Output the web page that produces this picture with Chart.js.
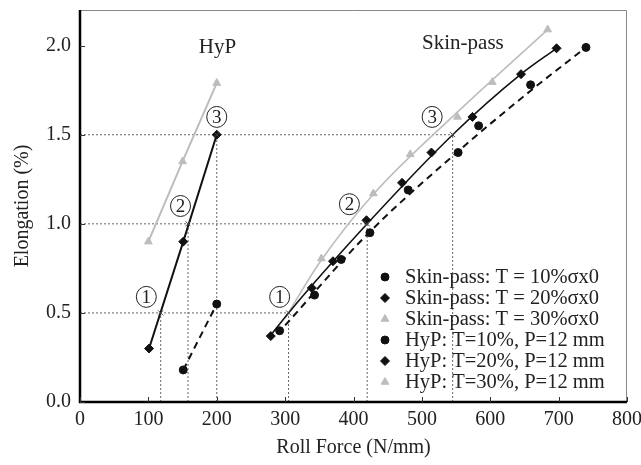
<!DOCTYPE html>
<html>
<head>
<meta charset="utf-8">
<script src="https://cdn.jsdelivr.net/npm/chart.js@4.4.1/dist/chart.umd.min.js"></script>
<style>
  html, body { margin: 0; padding: 0; background: #fff; }
</style>
</head>
<body>
<canvas id="chart" width="641" height="465"></canvas>
<script>
// ---- data ----
const xTicks = [0, 100, 200, 300, 400, 500, 600, 700, 800];
const yTicks = [0.0, 0.5, 1.0, 1.5, 2.0];

// Skin-pass measurements
const skinT10 = [[292,0.40],[343,0.60],[382,0.80],[424,0.95],[480,1.19],[553,1.40],[583,1.55],[659,1.78],[740,1.99]];
const skinT20 = [[279,0.37],[339,0.64],[370,0.79],[419,1.02],[471,1.23],[514,1.40],[574,1.60],[645,1.84],[697,1.985]];
const skinT30 = [[353,0.805],[429,1.17],[483,1.39],[552,1.60],[603,1.795],[684,2.09]];

// HyP measurements
const hypT10 = [[151,0.18],[200,0.55]];
const hypT20 = [[101,0.30],[151,0.90],[200,1.50]];
const hypT30 = [[100,0.90],[150,1.35],[200,1.79]];

// fitted curves
const skinFit10 = [[300,0.43],[420,0.94],[545,1.38],[660,1.75],[740,1.99]];
const skinFit20 = [[278,0.37],[305,0.50],[420,1.00],[545,1.50],[645,1.84],[697,1.985]];
const skinFit30 = [[300,0.47],[350,0.78],[430,1.17],[550,1.62],[684,2.09]];

// elongation levels 1,2,3 and the roll force where each process reaches them
const levels = [0.5, 1.0, 1.5];
const levelNames = ['1', '2', '3'];
const hypCross = [118, 158, 200];
const skinCross = [305, 420, 545];

// where the circled level numbers sit
const hypMarks = [[97, 0.59], [147, 1.10], [200, 1.60]];
const skinMarks = [[292, 0.59], [394, 1.11], [515, 1.60]];

const legendNames = [
  'Skin-pass: T = 10%σx0',
  'Skin-pass: T = 20%σx0',
  'Skin-pass: T = 30%σx0',
  'HyP: T=10%, P=12 mm',
  'HyP: T=20%, P=12 mm',
  'HyP: T=30%, P=12 mm'
];

const SERIF = '"Liberation Serif", "Times New Roman", serif';
const BLACK = '#111';
const GREY = '#bdbdbd';
const GUIDE = '#666';

const pts = arr => arr.map(p => ({ x: p[0], y: p[1] }));

// dotted guide lines
const guideSets = [];
levels.forEach((lv, i) => {
  guideSets.push({ data: [{x: 0, y: lv}, {x: skinCross[i], y: lv}] });
  guideSets.push({ data: [{x: hypCross[i], y: 0}, {x: hypCross[i], y: lv}] });
  guideSets.push({ data: [{x: skinCross[i], y: 0}, {x: skinCross[i], y: lv}] });
});
guideSets.forEach(d => Object.assign(d, {
  showLine: true, borderColor: GUIDE, borderWidth: 1, borderDash: [2, 2],
  pointRadius: 0, order: 10
}));

function lineSet(arr, color, width, dash, smooth) {
  return {
    data: pts(arr), showLine: true, borderColor: color, borderWidth: width,
    borderDash: dash, pointRadius: 0, tension: smooth ? 0.4 : 0,
    cubicInterpolationMode: smooth ? 'monotone' : 'default', order: 5
  };
}
function markSet(arr, style, color, r) {
  return {
    data: pts(arr), showLine: false, pointStyle: style, pointRadius: r,
    pointBackgroundColor: color, pointBorderColor: color, pointBorderWidth: 1, order: 1
  };
}

const crossPts = [];
levels.forEach((lv, i) => {
  crossPts.push([hypCross[i], lv]);
  crossPts.push([skinCross[i], lv]);
});

const datasets = [
  ...guideSets,
  lineSet(hypT10, BLACK, 2, [7, 5], false),
  lineSet(hypT20, BLACK, 2, [], false),
  lineSet(hypT30, GREY, 2, [], false),
  lineSet(skinFit10, BLACK, 2, [7, 5], true),
  lineSet(skinFit20, BLACK, 1.6, [], true),
  lineSet(skinFit30, GREY, 1.6, [], true),
  markSet(skinT10, 'circle', BLACK, 4),
  markSet(skinT20, 'rectRot', BLACK, 4.5),
  markSet(skinT30, 'triangle', GREY, 4.5),
  markSet(hypT10, 'circle', BLACK, 4),
  markSet(hypT20, 'rectRot', BLACK, 4.5),
  markSet(hypT30, 'triangle', GREY, 4.5),
  { data: pts(crossPts), showLine: false, pointStyle: 'crossRot', pointRadius: 3.5,
    pointBorderColor: '#444', pointBorderWidth: 1, order: 0 }
];

const decor = {
  id: 'decor',
  afterDraw(chart) {
    const { ctx, chartArea: a, scales: { x, y } } = chart;
    ctx.save();
    // frame
    ctx.strokeStyle = '#888';
    ctx.lineWidth = 1;
    ctx.beginPath();
    ctx.moveTo(a.left, a.top + 0.5); ctx.lineTo(a.right - 0.5, a.top + 0.5); ctx.lineTo(a.right - 0.5, a.bottom);
    ctx.stroke();
    ctx.strokeStyle = '#000';
    ctx.lineWidth = 2.5;
    ctx.beginPath();
    ctx.moveTo(a.left, a.top); ctx.lineTo(a.left, a.bottom); ctx.lineTo(a.right, a.bottom);
    ctx.stroke();
    // inward ticks
    ctx.lineWidth = 1;
    ctx.strokeStyle = '#333';
    ctx.beginPath();
    xTicks.forEach(v => { const px = Math.round(x.getPixelForValue(v)) + 0.5; ctx.moveTo(px, a.bottom); ctx.lineTo(px, a.bottom - 5); });
    yTicks.forEach(v => { const py = Math.round(y.getPixelForValue(v)) + 0.5; ctx.moveTo(a.left, py); ctx.lineTo(a.left + 5, py); });
    ctx.stroke();

    // circled level numbers
    ctx.font = '19px ' + SERIF;
    ctx.textAlign = 'center';
    ctx.textBaseline = 'middle';
    [...hypMarks, ...skinMarks].forEach((m, i) => {
      const cx = x.getPixelForValue(m[0]), cy = y.getPixelForValue(m[1]);
      ctx.fillStyle = '#fff';
      ctx.strokeStyle = '#222';
      ctx.lineWidth = 1;
      ctx.beginPath();
      ctx.ellipse(cx, cy, 10, 10.5, 0, 0, Math.PI * 2);
      ctx.fill();
      ctx.stroke();
      ctx.fillStyle = '#222';
      ctx.fillText(levelNames[i % 3], cx, cy + 1);
    });

    // group labels
    ctx.font = '21px ' + SERIF;
    ctx.fillStyle = '#222';
    ctx.fillText('HyP', x.getPixelForValue(201), y.getPixelForValue(1.99));
    ctx.fillText('Skin-pass', x.getPixelForValue(560), y.getPixelForValue(2.01));

    // legend
    const styles = [['circle', BLACK], ['rectRot', BLACK], ['triangle', GREY], ['circle', BLACK], ['rectRot', BLACK], ['triangle', GREY]];
    ctx.font = '20.5px ' + SERIF;
    ctx.textAlign = 'left';
    const lx = 385, ly = 277, step = 21;
    legendNames.forEach((name, i) => {
      const yy = ly + i * step;
      ctx.fillStyle = styles[i][1];
      ctx.strokeStyle = styles[i][1];
      Chart.helpers.drawPoint(ctx, { pointStyle: styles[i][0], radius: styles[i][0] === 'circle' ? 4 : 4.5, borderWidth: 1 }, lx, yy);
      ctx.fillStyle = '#222';
      ctx.fillText(name, lx + 20, yy + 1);
    });
    ctx.restore();
  }
};

new Chart(document.getElementById('chart'), {
  type: 'scatter',
  data: { datasets },
  options: {
    responsive: false,
    animation: false,
    layout: { padding: { top: 10, right: 14, left: 0, bottom: 0 } },
    plugins: { legend: { display: false }, tooltip: { enabled: false } },
    scales: {
      x: {
        type: 'linear', min: 0, max: 800,
        afterBuildTicks: s => { s.ticks = xTicks.map(v => ({ value: v })); },
        afterFit: s => { s.height = 63; s.paddingLeft = 0; s.paddingRight = 0; },
        grid: { display: false, drawTicks: false },
        border: { display: false },
        ticks: { padding: 6, color: '#222', font: { family: SERIF, size: 20 }, maxRotation: 0 },
        title: { display: true, text: 'Roll Force (N/mm)', color: '#222', font: { family: SERIF, size: 20 }, padding: { top: 0, bottom: 5 } }
      },
      y: {
        type: 'linear', min: 0, max: 2.2,
        afterBuildTicks: s => { s.ticks = yTicks.map(v => ({ value: v })); },
        afterFit: s => { s.width = 80; s.paddingTop = 0; s.paddingBottom = 0; },
        grid: { display: false, drawTicks: false },
        border: { display: false },
        ticks: { padding: 9, color: '#222', font: { family: SERIF, size: 20 }, callback: v => v.toFixed(1) },
        title: { display: true, text: 'Elongation (%)', color: '#222', font: { family: SERIF, size: 20 }, padding: { top: 11, bottom: 0 } }
      }
    }
  },
  plugins: [decor]
});
</script>
</body>
</html>
